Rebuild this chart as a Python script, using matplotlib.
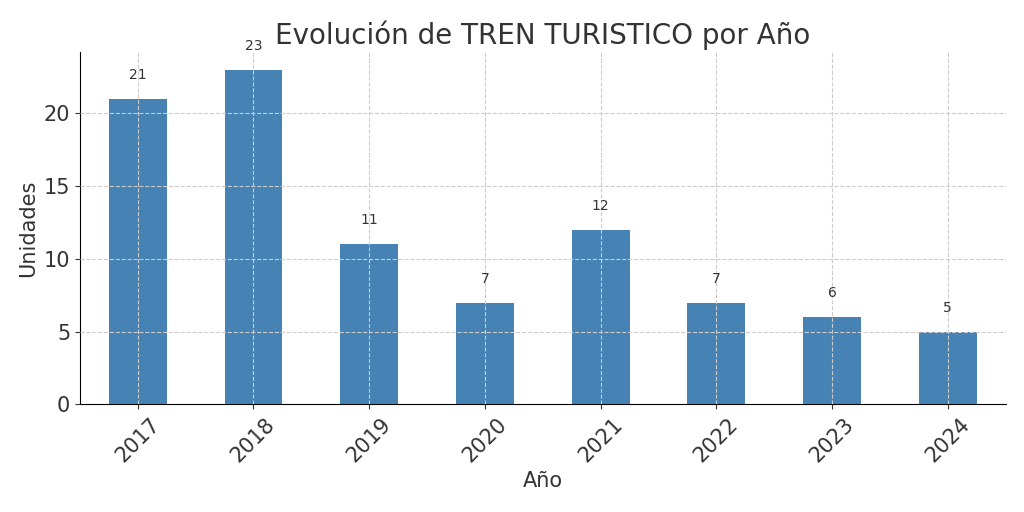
import matplotlib
matplotlib.use('Agg')
import matplotlib.pyplot as plt

# datos del gráfico
anios = ['2017', '2018', '2019', '2020', '2021', '2022', '2023', '2024']
unidades = [21, 23, 11, 7, 12, 7, 6, 5]

fig, ax = plt.subplots(figsize=(10.24, 5.12), dpi=100)
fig.subplots_adjust(left=0.078, right=0.982, top=0.898, bottom=0.21)

barras = ax.bar(anios, unidades, width=0.5, color='#4682b4')
ax.set_axisbelow(False)
ax.grid(True, linestyle='--', color='#cccccc', linewidth=0.8)

# etiquetas encima de cada barra
for i, v in enumerate(unidades):
    ax.text(i, v + 1.65, str(v), ha='center', va='center', fontsize=10, color='#333333')

ax.set_title('Evolución de TREN TURISTICO por Año', fontsize=20, color='#333333')
ax.set_xlabel('Año', fontsize=15, color='#333333')
ax.set_ylabel('Unidades', fontsize=15, color='#333333')
ax.tick_params(axis='x', labelsize=15, rotation=45, colors='#333333')
ax.tick_params(axis='y', labelsize=15, colors='#333333')
ax.set_ylim(0, 24.2)
ax.set_xlim(-0.5, 7.5)
ax.spines['top'].set_visible(False)
ax.spines['right'].set_visible(False)

plt.savefig('out.png')
